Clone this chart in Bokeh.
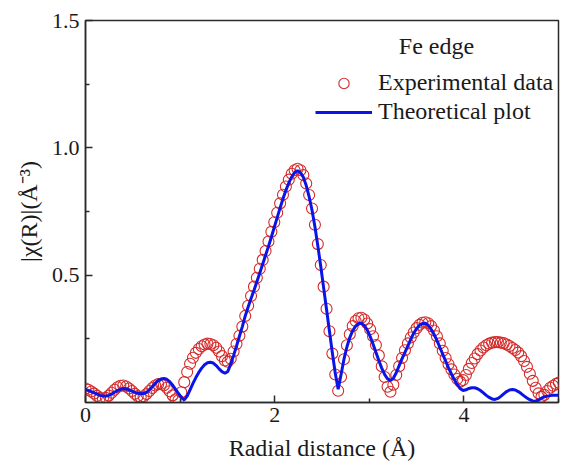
from bokeh.plotting import figure
from bokeh.models import (FixedTicker, PrintfTickFormatter, Legend, LegendItem,
                          Label, Range1d, ColumnDataSource)
from bokeh.embed import file_html
from bokeh.resources import INLINE
import numpy as np

# R grid of the Fourier transform (Athena-style spacing)
R_START = 0.0
R_STEP = 0.0307

# |chi(R)|, experimental data (circles)
exp_chi = [
    0.055, 0.050, 0.043, 0.035, 0.026, 0.018, 0.015, 0.018, 0.027, 0.038,
    0.050, 0.060, 0.066, 0.067, 0.063, 0.055, 0.045, 0.034, 0.025, 0.021,
    0.024, 0.033, 0.045, 0.057, 0.067, 0.072, 0.073, 0.068, 0.058, 0.044,
    0.028, 0.013, 0.009, 0.040, 0.080, 0.120, 0.152, 0.176, 0.195, 0.210,
    0.221, 0.228, 0.231, 0.230, 0.225, 0.215, 0.200, 0.182, 0.165, 0.160,
    0.172, 0.200, 0.230, 0.262, 0.298, 0.340, 0.380, 0.418, 0.455, 0.490,
    0.525, 0.560, 0.595, 0.632, 0.670, 0.708, 0.745, 0.782, 0.816, 0.848,
    0.875, 0.898, 0.912, 0.918, 0.912, 0.893, 0.860, 0.815, 0.762, 0.698,
    0.622, 0.540, 0.455, 0.368, 0.280, 0.192, 0.110, 0.046, 0.100, 0.170,
    0.225, 0.268, 0.300, 0.320, 0.331, 0.333, 0.326, 0.310, 0.288, 0.260,
    0.226, 0.185, 0.142, 0.100, 0.062, 0.042, 0.070, 0.108, 0.142, 0.175,
    0.205, 0.232, 0.255, 0.275, 0.292, 0.305, 0.313, 0.315, 0.311, 0.300,
    0.283, 0.260, 0.232, 0.203, 0.175, 0.150, 0.130, 0.110, 0.092, 0.082,
    0.088, 0.108, 0.132, 0.155, 0.173, 0.190, 0.204, 0.216, 0.225, 0.231,
    0.235, 0.237, 0.237, 0.235, 0.233, 0.228, 0.222, 0.214, 0.206, 0.196,
    0.182, 0.163, 0.140, 0.113, 0.085, 0.058, 0.036, 0.022, 0.030, 0.045,
    0.058, 0.066, 0.073, 0.078,
]

# |chi(R)|, theoretical fit (line)
fit_chi = [
    0.050, 0.047, 0.043, 0.038, 0.033, 0.028, 0.026, 0.025, 0.028, 0.033,
    0.040, 0.047, 0.052, 0.055, 0.054, 0.050, 0.045, 0.040, 0.036, 0.034,
    0.035, 0.040, 0.050, 0.062, 0.075, 0.086, 0.092, 0.094, 0.091, 0.082,
    0.068, 0.052, 0.036, 0.020, 0.010, 0.025, 0.050, 0.075, 0.098, 0.118,
    0.135, 0.148, 0.156, 0.158, 0.155, 0.145, 0.132, 0.121, 0.115, 0.122,
    0.150, 0.185, 0.222, 0.260, 0.298, 0.340, 0.375, 0.408, 0.440, 0.474,
    0.508, 0.543, 0.578, 0.613, 0.650, 0.688, 0.726, 0.764, 0.800, 0.833,
    0.862, 0.886, 0.903, 0.910, 0.903, 0.885, 0.852, 0.808, 0.755, 0.690,
    0.615, 0.535, 0.450, 0.365, 0.280, 0.195, 0.115, 0.052, 0.110, 0.170,
    0.218, 0.255, 0.282, 0.300, 0.310, 0.311, 0.302, 0.285, 0.260, 0.230,
    0.197, 0.165, 0.135, 0.110, 0.093, 0.086, 0.095, 0.117, 0.145, 0.172,
    0.197, 0.222, 0.248, 0.272, 0.290, 0.303, 0.310, 0.311, 0.303, 0.288,
    0.268, 0.244, 0.217, 0.190, 0.163, 0.136, 0.112, 0.090, 0.070, 0.055,
    0.047, 0.050, 0.055, 0.058, 0.058, 0.054, 0.047, 0.038, 0.028, 0.020,
    0.014, 0.012, 0.016, 0.024, 0.034, 0.043, 0.049, 0.051, 0.049, 0.043,
    0.035, 0.026, 0.018, 0.011, 0.006, 0.005, 0.010, 0.017, 0.022, 0.025,
    0.027, 0.028, 0.028, 0.028,
]

x_ticks = [0, 2, 4]
x_minor = [1, 3, 5]
y_ticks = [0.5, 1.0, 1.5]
y_minor = [0.25, 0.75, 1.25]

legend_title = "Fe edge"
exp_label = "Experimental data"
fit_label = "Theoretical plot"
x_title = "Radial distance (Å)"
y_title = "|χ(R)|(Å⁻³)"

r_exp = R_START + R_STEP * np.arange(len(exp_chi))
r_fit = R_START + R_STEP * np.arange(len(fit_chi))

FONT = "Liberation Serif"
AX = "#2b2b2b"
TXT = "#1a1a1a"

p = figure(width=561, height=469, output_backend="svg", toolbar_location=None,
           x_range=Range1d(0, 5), y_range=Range1d(0, 1.5),
           min_border_left=85, min_border_right=3, min_border_top=20,
           min_border_bottom=67)
p.background_fill_color = "white"
p.border_fill_color = "white"
p.grid.visible = False
p.outline_line_color = AX
p.outline_line_width = 1.5

src_e = ColumnDataSource(dict(r=r_exp, y=exp_chi))
src_f = ColumnDataSource(dict(r=r_fit, y=fit_chi))

rc = p.scatter("r", "y", source=src_e, marker="circle", size=11,
               fill_color=None, line_color="#d42a2a", line_width=1.1)
rl = p.line("r", "y", source=src_f, line_color="#0a14e6", line_width=3)

for ax in (p.xaxis[0], p.yaxis[0]):
    ax.axis_line_color = AX
    ax.axis_line_width = 1.5
    ax.major_tick_line_color = AX
    ax.minor_tick_line_color = AX
    ax.major_tick_line_width = 1.5
    ax.minor_tick_line_width = 1.5
    ax.major_tick_in = 7
    ax.major_tick_out = 0
    ax.minor_tick_in = 4
    ax.minor_tick_out = 0
    ax.major_label_text_font = FONT
    ax.major_label_text_font_size = "22px"
    ax.major_label_text_color = TXT
    ax.axis_label_text_font = FONT
    ax.axis_label_text_font_size = "24px"
    ax.axis_label_text_font_style = "normal"
    ax.axis_label_text_color = TXT

p.xaxis.ticker = FixedTicker(ticks=x_ticks, minor_ticks=x_minor)
p.yaxis.ticker = FixedTicker(ticks=y_ticks, minor_ticks=y_minor)
p.xaxis.formatter = PrintfTickFormatter(format="%d")
p.yaxis.formatter = PrintfTickFormatter(format="%.1f")
p.xaxis.axis_label = x_title
p.yaxis.axis_label = y_title
p.xaxis.major_label_standoff = 5
p.yaxis.major_label_standoff = 6
p.xaxis.axis_label_standoff = 10
p.yaxis.axis_label_standoff = 7

legend = Legend(items=[LegendItem(label=exp_label, renderers=[rc]),
                       LegendItem(label=fit_label, renderers=[rl])],
                location=(230, 277))
legend.label_text_font = FONT
legend.label_text_font_size = "24px"
legend.label_text_color = TXT
legend.glyph_width = 57
legend.glyph_height = 26
legend.label_height = 26
legend.label_standoff = 6
legend.spacing = 2
legend.padding = 0
legend.margin = 0
legend.border_line_color = None
legend.background_fill_alpha = 0
p.add_layout(legend)

p.add_layout(Label(x=3.71, y=1.40, text=legend_title, text_align="center",
                   text_baseline="middle", text_font=FONT,
                   text_font_size="24px", text_color=TXT))

open("out.html", "w").write(file_html(p, INLINE))
